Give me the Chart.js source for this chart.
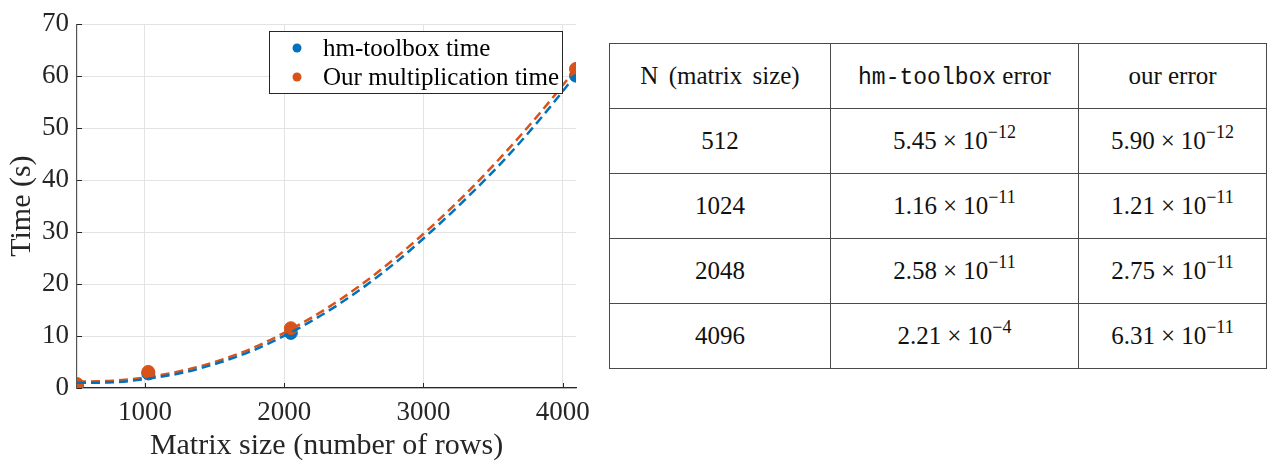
<!DOCTYPE html>
<html>
<head>
<meta charset="utf-8">
<script src="https://cdn.jsdelivr.net/npm/chart.js@4.4.1/dist/chart.umd.min.js"></script>
<style>
  body { margin: 0; background: #fff; width: 1282px; height: 464px; overflow: hidden; position: relative; }
  #wrap { position: absolute; left: 0; top: 0; width: 600px; height: 464px; }
  #errTable { position: absolute; left: 609px; top: 43px; border-collapse: collapse;
    font-family: "Liberation Serif", "Times New Roman", serif; font-size: 25px; color: #111; }
  #errTable td, #errTable th { border: 1.5px solid #4a4a4a; height: 64px; text-align: center; font-weight: normal; padding: 0; }
  #errTable th.first { word-spacing: 4px; }
  #errTable sup { font-size: 18px; vertical-align: 11px; line-height: 0; }
  #errTable .times { margin: 0 6px; }
  .mono { font-family: "Liberation Mono", "DejaVu Sans Mono", monospace; font-size: 23px; }
</style>
</head>
<body>
<div id="wrap"><canvas id="myChart"></canvas></div>
<table id="errTable"></table>
<script>
// measured points
const sizes = [512, 1024, 2048, 4096];
const hmTime = [0.6, 2.8, 10.6, 60.1];
const ourTime = [0.75, 3.1, 11.5, 61.4];

// fitted dashed curves
const fitX = [512, 768, 1024, 1280, 1536, 1792, 2048, 2304, 2560, 2816, 3072, 3328, 3584, 3840, 4096];
const hmFit = [1.0, 1.1, 1.8, 3.0, 4.9, 7.4, 10.7, 14.6, 19.2, 24.5, 30.5, 37.0, 44.0, 51.8, 60.3];
const ourFit = [1.2, 1.4, 2.1, 3.4, 5.3, 7.9, 11.3, 15.3, 20.0, 25.4, 31.4, 38.0, 45.2, 53.0, 61.4];

const xTickVals = [1000, 2000, 3000, 4000];
const yTickVals = [0, 10, 20, 30, 40, 50, 60, 70];

// table contents
const tableHead = ["N (matrix size)", "hm-toolbox error", "our error"];
const tableN = ["512", "1024", "2048", "4096"];
const hmErr = [["5.45", "12"], ["1.16", "11"], ["2.58", "11"], ["2.21", "4"]];
const ourErr = [["5.90", "12"], ["1.21", "11"], ["2.75", "11"], ["6.31", "11"]];

const blue = "#0072BD";
const orange = "#D95319";
const serif = "'Liberation Serif', 'Times New Roman', serif";

function pts(xs, ys) {
  return xs.map((x, i) => ({ x: x, y: ys[i] }));
}

function sci(pair) {
  return pair[0] + "<span class='times'>&times;</span>10<sup>&minus;" + pair[1] + "</sup>";
}

// build the table
const tbl = document.getElementById("errTable");
const colW = [220, 247, 187];
let html = "<tr>";
html += "<th class='first' style='width:" + colW[0] + "px'>" + tableHead[0] + "</th>";
html += "<th style='width:" + colW[1] + "px'><span class='mono'>" + tableHead[1].split(" ")[0] +
  "</span> " + tableHead[1].split(" ")[1] + "</th>";
html += "<th style='width:" + colW[2] + "px'>" + tableHead[2] + "</th></tr>";
tableN.forEach((n, i) => {
  html += "<tr><td>" + n + "</td><td>" + sci(hmErr[i]) + "</td><td>" + sci(ourErr[i]) + "</td></tr>";
});
tbl.innerHTML = html;

// legend box drawn inside the plot, plus inward tick marks
const extras = {
  id: "extras",
  afterDraw(chart) {
    const ctx = chart.ctx;
    const xs = chart.scales.x, ys = chart.scales.y;
    const a = chart.chartArea;
    ctx.save();
    ctx.strokeStyle = "#262626";
    ctx.lineWidth = 1;
    xTickVals.forEach(v => {
      const px = Math.round(xs.getPixelForValue(v)) + 0.5;
      ctx.beginPath(); ctx.moveTo(px, a.bottom); ctx.lineTo(px, a.bottom - 5); ctx.stroke();
    });
    yTickVals.forEach(v => {
      const py = Math.round(ys.getPixelForValue(v)) + 0.5;
      ctx.beginPath(); ctx.moveTo(a.left, py); ctx.lineTo(a.left + 5, py); ctx.stroke();
    });

    // legend
    const lx = 269.5, ly = 31.5, lw = 293, lh = 62;
    ctx.fillStyle = "#fff";
    ctx.fillRect(lx, ly, lw, lh);
    ctx.strokeRect(lx, ly, lw, lh);
    const items = chart.data.datasets.filter(d => d.type === "scatter");
    items.forEach((d, i) => {
      const cy = 48 + i * 29;
      ctx.fillStyle = d.backgroundColor;
      ctx.beginPath(); ctx.arc(297, cy, 4.5, 0, Math.PI * 2); ctx.fill();
      ctx.fillStyle = "#000";
      ctx.font = "25px " + serif;
      ctx.textBaseline = "middle";
      ctx.fillText(d.label, 323, cy + 1);
    });
    ctx.restore();
  }
};

const canvasArea = document.getElementById("myChart").getContext("2d");
const data = {
  datasets: [
    {
      type: "line", label: "hm fit", data: pts(fitX, hmFit),
      borderColor: blue, borderWidth: 2.5, borderDash: [9, 5], pointRadius: 0,
      cubicInterpolationMode: "monotone", fill: false, order: 0,
    },
    {
      type: "line", label: "our fit", data: pts(fitX, ourFit),
      borderColor: orange, borderWidth: 2.5, borderDash: [9, 5], pointRadius: 0,
      cubicInterpolationMode: "monotone", fill: false, order: 0,
    },
    {
      type: "scatter", label: "hm-toolbox time", data: pts(sizes, hmTime),
      backgroundColor: blue, borderColor: blue, pointRadius: 6.5, order: 2,
    },
    {
      type: "scatter", label: "Our multiplication time", data: pts(sizes, ourTime),
      backgroundColor: orange, borderColor: orange, pointRadius: 6.5, order: 1,
    },
  ],
};

const config = {
  type: "scatter",
  data: data,
  plugins: [extras],
  options: {
    responsive: true,
    maintainAspectRatio: false,
    animation: false,
    layout: { padding: { top: 18, right: 24, left: 0, bottom: 0 } },
    plugins: { legend: { display: false }, tooltip: { enabled: false } },
    scales: {
      x: {
        type: "linear", min: 512, max: 4096,
        afterBuildTicks: s => { s.ticks = xTickVals.map(v => ({ value: v })); },
        afterFit: s => { s.height = 76; },
        grid: { color: "#e3e3e3", lineWidth: 1, drawTicks: false },
        border: { color: "#262626", width: 1.2 },
        ticks: { color: "#262626", font: { family: serif, size: 27 }, padding: 9, maxRotation: 0,
          callback: v => String(v) },
        title: { display: true, text: "Matrix size (number of rows)", color: "#262626",
          font: { family: serif, size: 30 }, padding: { top: 0, bottom: 0 } },
      },
      y: {
        min: 0, max: 70,
        afterBuildTicks: s => { s.ticks = yTickVals.map(v => ({ value: v })); },
        afterFit: s => { s.width = 77; },
        grid: { color: "#e3e3e3", lineWidth: 1, drawTicks: false },
        border: { color: "#555", width: 1.2 },
        ticks: { color: "#262626", font: { family: serif, size: 27 }, padding: 8,
          callback: v => String(v) },
        title: { display: true, text: "Time (s)", color: "#262626",
          font: { family: serif, size: 30 }, padding: { top: 4, bottom: 0 } },
      },
    },
  },
};
const myChartOne = new Chart(canvasArea, config);
</script>
</body>
</html>
